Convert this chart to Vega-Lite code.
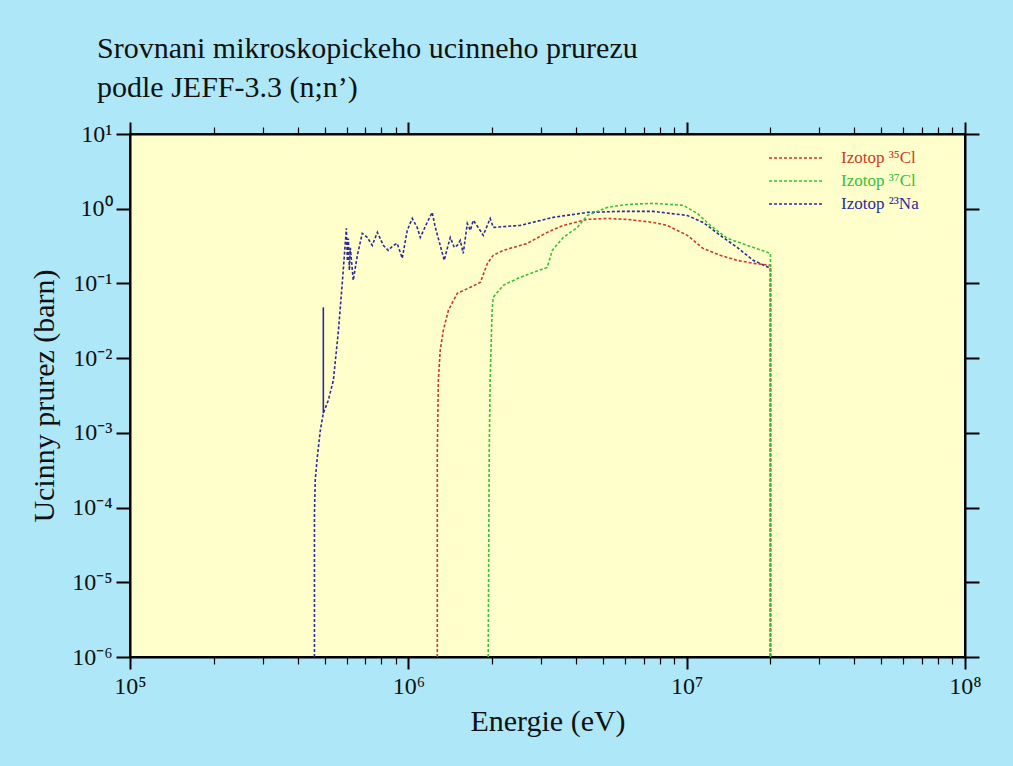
{
  "$schema": "https://vega.github.io/schema/vega-lite/v6.json",
  "width": 835,
  "height": 523,
  "autosize": "none",
  "padding": {"left": 130, "top": 134, "right": 48, "bottom": 109},
  "background": "#aee8f8",
  "config": {
    "view": {"fill": "#ffffcc", "stroke": "#000000", "strokeWidth": 2},
    "font": "Liberation Serif"
  },
  "title": {
    "text": ["Srovnani mikroskopickeho ucinneho prurezu", "podle JEFF-3.3 (n;n’)"],
    "anchor": "start",
    "frame": "group",
    "dx": -33,
    "fontSize": 30,
    "font": "Liberation Serif",
    "fontWeight": "normal",
    "color": "#111111",
    "lineHeight": 39,
    "offset": 18
  },
  "datasets": {
    "curves": [
      {"iso": "Izotop ²³Na", "i": 1, "E": 460000, "s": 0.000001},
      {"iso": "Izotop ²³Na", "i": 2, "E": 460000, "s": 0.000084},
      {"iso": "Izotop ²³Na", "i": 3, "E": 463000, "s": 0.000233},
      {"iso": "Izotop ²³Na", "i": 4, "E": 471000, "s": 0.000473},
      {"iso": "Izotop ²³Na", "i": 5, "E": 483000, "s": 0.00109},
      {"iso": "Izotop ²³Na", "i": 6, "E": 495000, "s": 0.00183},
      {"iso": "Izotop ²³Na", "i": 7, "E": 516000, "s": 0.00274},
      {"iso": "Izotop ²³Na", "i": 8, "E": 538000, "s": 0.00507},
      {"iso": "Izotop ²³Na", "i": 9, "E": 561000, "s": 0.0236},
      {"iso": "Izotop ²³Na", "i": 10, "E": 580000, "s": 0.11},
      {"iso": "Izotop ²³Na", "i": 11, "E": 599000, "s": 0.546},
      {"iso": "Izotop ²³Na", "i": 12, "E": 604000, "s": 0.2},
      {"iso": "Izotop ²³Na", "i": 13, "E": 609000, "s": 0.4},
      {"iso": "Izotop ²³Na", "i": 14, "E": 614000, "s": 0.15},
      {"iso": "Izotop ²³Na", "i": 15, "E": 619000, "s": 0.3},
      {"iso": "Izotop ²³Na", "i": 16, "E": 634000, "s": 0.11},
      {"iso": "Izotop ²³Na", "i": 17, "E": 656000, "s": 0.238},
      {"iso": "Izotop ²³Na", "i": 18, "E": 683000, "s": 0.468},
      {"iso": "Izotop ²³Na", "i": 19, "E": 712000, "s": 0.413},
      {"iso": "Izotop ²³Na", "i": 20, "E": 742000, "s": 0.323},
      {"iso": "Izotop ²³Na", "i": 21, "E": 774000, "s": 0.482},
      {"iso": "Izotop ²³Na", "i": 22, "E": 813000, "s": 0.323},
      {"iso": "Izotop ²³Na", "i": 23, "E": 847000, "s": 0.277},
      {"iso": "Izotop ²³Na", "i": 24, "E": 883000, "s": 0.323},
      {"iso": "Izotop ²³Na", "i": 25, "E": 912000, "s": 0.343},
      {"iso": "Izotop ²³Na", "i": 26, "E": 951000, "s": 0.217},
      {"iso": "Izotop ²³Na", "i": 27, "E": 991000, "s": 0.513},
      {"iso": "Izotop ²³Na", "i": 28, "E": 1033000, "s": 0.741},
      {"iso": "Izotop ²³Na", "i": 29, "E": 1076000, "s": 0.562},
      {"iso": "Izotop ²³Na", "i": 30, "E": 1104000, "s": 0.413},
      {"iso": "Izotop ²³Na", "i": 31, "E": 1169000, "s": 0.656},
      {"iso": "Izotop ²³Na", "i": 32, "E": 1218000, "s": 0.893},
      {"iso": "Izotop ²³Na", "i": 33, "E": 1250000, "s": 0.562},
      {"iso": "Izotop ²³Na", "i": 34, "E": 1302000, "s": 0.323},
      {"iso": "Izotop ²³Na", "i": 35, "E": 1346000, "s": 0.204},
      {"iso": "Izotop ²³Na", "i": 36, "E": 1380000, "s": 0.294},
      {"iso": "Izotop ²³Na", "i": 37, "E": 1415000, "s": 0.413},
      {"iso": "Izotop ²³Na", "i": 38, "E": 1462000, "s": 0.304},
      {"iso": "Izotop ²³Na", "i": 39, "E": 1499000, "s": 0.323},
      {"iso": "Izotop ²³Na", "i": 40, "E": 1537000, "s": 0.377},
      {"iso": "Izotop ²³Na", "i": 41, "E": 1575000, "s": 0.252},
      {"iso": "Izotop ²³Na", "i": 42, "E": 1629000, "s": 0.635},
      {"iso": "Izotop ²³Na", "i": 43, "E": 1670000, "s": 0.513},
      {"iso": "Izotop ²³Na", "i": 44, "E": 1711000, "s": 0.698},
      {"iso": "Izotop ²³Na", "i": 45, "E": 1783000, "s": 0.562},
      {"iso": "Izotop ²³Na", "i": 46, "E": 1858000, "s": 0.44},
      {"iso": "Izotop ²³Na", "i": 47, "E": 1968000, "s": 0.741},
      {"iso": "Izotop ²³Na", "i": 48, "E": 2018000, "s": 0.562},
      {"iso": "Izotop ²³Na", "i": 49, "E": 2523000, "s": 0.598},
      {"iso": "Izotop ²³Na", "i": 50, "E": 3316000, "s": 0.766},
      {"iso": "Izotop ²³Na", "i": 51, "E": 4395000, "s": 0.893},
      {"iso": "Izotop ²³Na", "i": 52, "E": 5770000, "s": 0.921},
      {"iso": "Izotop ²³Na", "i": 53, "E": 7580000, "s": 0.921},
      {"iso": "Izotop ²³Na", "i": 54, "E": 10050000, "s": 0.813},
      {"iso": "Izotop ²³Na", "i": 55, "E": 11460000, "s": 0.656},
      {"iso": "Izotop ²³Na", "i": 56, "E": 13190000, "s": 0.44},
      {"iso": "Izotop ²³Na", "i": 57, "E": 15180000, "s": 0.304},
      {"iso": "Izotop ²³Na", "i": 58, "E": 17330000, "s": 0.204},
      {"iso": "Izotop ²³Na", "i": 59, "E": 20000000, "s": 0.159},
      {"iso": "Izotop ²³Na", "i": 60, "E": 20000000, "s": 0.000001},

      {"iso": "Izotop ³⁵Cl", "i": 1, "E": 1271000, "s": 0.000001},
      {"iso": "Izotop ³⁵Cl", "i": 2, "E": 1271000, "s": 0.000587},
      {"iso": "Izotop ³⁵Cl", "i": 3, "E": 1282000, "s": 0.00507},
      {"iso": "Izotop ³⁵Cl", "i": 4, "E": 1302000, "s": 0.0128},
      {"iso": "Izotop ³⁵Cl", "i": 5, "E": 1336000, "s": 0.0236},
      {"iso": "Izotop ³⁵Cl", "i": 6, "E": 1393000, "s": 0.0437},
      {"iso": "Izotop ³⁵Cl", "i": 7, "E": 1499000, "s": 0.0738},
      {"iso": "Izotop ³⁵Cl", "i": 8, "E": 1670000, "s": 0.0887},
      {"iso": "Izotop ³⁵Cl", "i": 9, "E": 1815000, "s": 0.1035},
      {"iso": "Izotop ³⁵Cl", "i": 10, "E": 1924000, "s": 0.186},
      {"iso": "Izotop ³⁵Cl", "i": 11, "E": 2018000, "s": 0.238},
      {"iso": "Izotop ³⁵Cl", "i": 12, "E": 2193000, "s": 0.277},
      {"iso": "Izotop ³⁵Cl", "i": 13, "E": 2674000, "s": 0.343},
      {"iso": "Izotop ³⁵Cl", "i": 14, "E": 3155000, "s": 0.482},
      {"iso": "Izotop ³⁵Cl", "i": 15, "E": 3604000, "s": 0.598},
      {"iso": "Izotop ³⁵Cl", "i": 16, "E": 4395000, "s": 0.72},
      {"iso": "Izotop ³⁵Cl", "i": 17, "E": 5180000, "s": 0.741},
      {"iso": "Izotop ³⁵Cl", "i": 18, "E": 6110000, "s": 0.72},
      {"iso": "Izotop ³⁵Cl", "i": 19, "E": 7580000, "s": 0.656},
      {"iso": "Izotop ³⁵Cl", "i": 20, "E": 8510000, "s": 0.598},
      {"iso": "Izotop ³⁵Cl", "i": 21, "E": 10050000, "s": 0.44},
      {"iso": "Izotop ³⁵Cl", "i": 22, "E": 11460000, "s": 0.294},
      {"iso": "Izotop ³⁵Cl", "i": 23, "E": 13190000, "s": 0.238},
      {"iso": "Izotop ³⁵Cl", "i": 24, "E": 15180000, "s": 0.204},
      {"iso": "Izotop ³⁵Cl", "i": 25, "E": 17330000, "s": 0.186},
      {"iso": "Izotop ³⁵Cl", "i": 26, "E": 20000000, "s": 0.175},
      {"iso": "Izotop ³⁵Cl", "i": 27, "E": 20000000, "s": 0.000001},

      {"iso": "Izotop ³⁷Cl", "i": 1, "E": 1936000, "s": 0.000001},
      {"iso": "Izotop ³⁷Cl", "i": 2, "E": 1953000, "s": 0.000587},
      {"iso": "Izotop ³⁷Cl", "i": 3, "E": 1968000, "s": 0.00507},
      {"iso": "Izotop ³⁷Cl", "i": 4, "E": 1985000, "s": 0.0173},
      {"iso": "Izotop ³⁷Cl", "i": 5, "E": 2000000, "s": 0.0437},
      {"iso": "Izotop ³⁷Cl", "i": 6, "E": 2018000, "s": 0.0652},
      {"iso": "Izotop ³⁷Cl", "i": 7, "E": 2193000, "s": 0.0944},
      {"iso": "Izotop ³⁷Cl", "i": 8, "E": 2523000, "s": 0.121},
      {"iso": "Izotop ³⁷Cl", "i": 9, "E": 3155000, "s": 0.164},
      {"iso": "Izotop ³⁷Cl", "i": 10, "E": 3290000, "s": 0.277},
      {"iso": "Izotop ³⁷Cl", "i": 11, "E": 3604000, "s": 0.413},
      {"iso": "Izotop ³⁷Cl", "i": 12, "E": 4050000, "s": 0.562},
      {"iso": "Izotop ³⁷Cl", "i": 13, "E": 4395000, "s": 0.813},
      {"iso": "Izotop ³⁷Cl", "i": 14, "E": 5180000, "s": 1.04},
      {"iso": "Izotop ³⁷Cl", "i": 15, "E": 6110000, "s": 1.14},
      {"iso": "Izotop ³⁷Cl", "i": 16, "E": 7580000, "s": 1.18},
      {"iso": "Izotop ³⁷Cl", "i": 17, "E": 9720000, "s": 1.11},
      {"iso": "Izotop ³⁷Cl", "i": 18, "E": 10920000, "s": 0.866},
      {"iso": "Izotop ³⁷Cl", "i": 19, "E": 12160000, "s": 0.598},
      {"iso": "Izotop ³⁷Cl", "i": 20, "E": 14000000, "s": 0.401},
      {"iso": "Izotop ³⁷Cl", "i": 21, "E": 16520000, "s": 0.323},
      {"iso": "Izotop ³⁷Cl", "i": 22, "E": 20000000, "s": 0.252},
      {"iso": "Izotop ³⁷Cl", "i": 23, "E": 20000000, "s": 0.000001}
    ],
    "spike": [
      {"E": 495000, "s1": 0.00183, "s2": 0.0479}
    ]
  },
  "layer": [
    {
      "data": {"name": "curves"},
      "mark": {"type": "line", "strokeDash": [3, 2], "strokeWidth": 1.6, "clip": true},
      "encoding": {
        "x": {
          "field": "E",
          "type": "quantitative",
          "scale": {"type": "log", "domain": [100000, 100000000], "nice": false},
          "axis": {
            "orient": "bottom",
            "title": "Energie (eV)",
            "titleFont": "Liberation Serif",
            "titleFontSize": 30,
            "titleFontWeight": "normal",
            "titleColor": "#111111",
            "titlePadding": 8,
            "values": [100000, 200000, 300000, 400000, 500000, 600000, 700000, 800000, 900000, 1000000, 2000000, 3000000, 4000000, 5000000, 6000000, 7000000, 8000000, 9000000, 10000000, 20000000, 30000000, 40000000, 50000000, 60000000, 70000000, 80000000, 90000000, 100000000],
            "labelExpr": "(abs(log(datum.value)/LN10 - round(log(datum.value)/LN10)) < 0.001) ? '10' + substring('⁰¹²³⁴⁵⁶⁷⁸⁹', round(log(datum.value)/LN10), round(log(datum.value)/LN10) + 1) : ''",
            "labelFont": "Liberation Serif",
            "labelFontSize": 24,
            "labelColor": "#111111",
            "labelPadding": 5,
            "labelFlush": false,
            "labelOverlap": false,
            "grid": false,
            "domain": true,
            "domainColor": "#000000",
            "domainWidth": 2,
            "tickColor": "#000000",
            "tickSize": {"condition": {"test": "abs(log(datum.value)/LN10 - round(log(datum.value)/LN10)) < 0.001", "value": 12}, "value": 7},
            "tickWidth": {"condition": {"test": "abs(log(datum.value)/LN10 - round(log(datum.value)/LN10)) < 0.001", "value": 2}, "value": 1.2}
          }
        },
        "y": {
          "field": "s",
          "type": "quantitative",
          "scale": {"type": "log", "domain": [0.000001, 10], "nice": false},
          "axis": {
            "orient": "left",
            "title": "Ucinny prurez (barn)",
            "titleFont": "Liberation Serif",
            "titleFontSize": 30,
            "titleFontWeight": "normal",
            "titleColor": "#111111",
            "titlePadding": 12,
            "values": [0.000001, 0.00001, 0.0001, 0.001, 0.01, 0.1, 1, 10],
            "labelExpr": "'10' + (round(log(datum.value)/LN10) < 0 ? '⁻' : '') + substring('⁰¹²³⁴⁵⁶⁷⁸⁹', abs(round(log(datum.value)/LN10)), abs(round(log(datum.value)/LN10)) + 1)",
            "labelFont": "Liberation Serif",
            "labelFontSize": 24,
            "labelColor": "#111111",
            "labelPadding": 4,
            "labelFlush": false,
            "labelOverlap": false,
            "grid": false,
            "domain": true,
            "domainColor": "#000000",
            "domainWidth": 2,
            "tickColor": "#000000",
            "tickSize": 14,
            "tickWidth": 2
          }
        },
        "color": {
          "field": "iso",
          "type": "nominal",
          "scale": {
            "domain": ["Izotop ³⁵Cl", "Izotop ³⁷Cl", "Izotop ²³Na"],
            "range": ["#cc3a2a", "#38c038", "#2b2b9e"]
          },
          "legend": {
            "orient": "none",
            "legendX": 638,
            "legendY": 13,
            "title": null,
            "symbolType": "M-1,0H4.4",
            "symbolSize": 400,
            "symbolDash": [3, 2],
            "symbolStrokeWidth": 1.6,
            "symbolFillColor": "transparent",
            "labelFont": "Liberation Serif",
            "labelFontSize": 17,
            "labelOffset": 51,
            "labelColor": {"expr": "scale('color', datum.value)"},
            "rowPadding": 4
          }
        },
        "order": {"field": "i", "type": "quantitative"}
      }
    },
    {
      "data": {"name": "spike"},
      "mark": {"type": "rule", "color": "#2b2b9e", "strokeWidth": 1.6},
      "encoding": {
        "x": {
          "field": "E",
          "type": "quantitative",
          "scale": {"type": "log", "domain": [100000, 100000000], "nice": false},
          "axis": {
            "orient": "top",
            "title": null,
            "labels": false,
            "values": [100000, 200000, 300000, 400000, 500000, 600000, 700000, 800000, 900000, 1000000, 2000000, 3000000, 4000000, 5000000, 6000000, 7000000, 8000000, 9000000, 10000000, 20000000, 30000000, 40000000, 50000000, 60000000, 70000000, 80000000, 90000000, 100000000],
            "grid": false,
            "domain": true,
            "domainColor": "#000000",
            "domainWidth": 2,
            "tickColor": "#000000",
            "tickSize": {"condition": {"test": "abs(log(datum.value)/LN10 - round(log(datum.value)/LN10)) < 0.001", "value": 12}, "value": 7},
            "tickWidth": {"condition": {"test": "abs(log(datum.value)/LN10 - round(log(datum.value)/LN10)) < 0.001", "value": 2}, "value": 1.2}
          }
        },
        "y": {
          "field": "s1",
          "type": "quantitative",
          "scale": {"type": "log", "domain": [0.000001, 10], "nice": false},
          "axis": {
            "orient": "right",
            "title": null,
            "labels": false,
            "values": [0.000001, 0.00001, 0.0001, 0.001, 0.01, 0.1, 1, 10],
            "grid": false,
            "domain": true,
            "domainColor": "#000000",
            "domainWidth": 2,
            "tickColor": "#000000",
            "tickSize": 14,
            "tickWidth": 2
          }
        },
        "y2": {"field": "s2"}
      }
    }
  ],
  "resolve": {"axis": {"x": "independent", "y": "independent"}}
}
